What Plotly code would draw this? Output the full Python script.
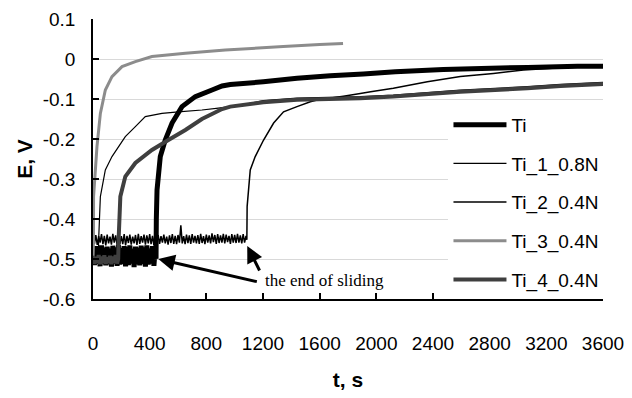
import plotly.graph_objects as go

# ---------------- data (time in s, potential in V) ----------------
series_names = ["Ti", "Ti_1_0.8N", "Ti_2_0.4N", "Ti_3_0.4N", "Ti_4_0.4N"]

t_ti = [0, 10, 20, 30, 40, 50, 60, 70, 80, 90,
        100, 110, 120, 130, 140, 150, 160, 170, 180, 190,
        200, 210, 220, 230, 240, 250, 260, 270, 280, 290,
        300, 310, 320, 330, 340, 350, 360, 370, 380, 390,
        400, 410, 420, 430, 440,
        445, 447, 452, 475, 510, 558, 628, 722, 840, 911, 969,
        1202, 1440, 1675, 1908, 2134, 2473, 3066, 3419, 3600]
e_ti = [-0.47, -0.515, -0.468, -0.512, -0.475, -0.518, -0.466, -0.51, -0.472, -0.516,
        -0.469, -0.513, -0.474, -0.519, -0.467, -0.511, -0.471, -0.517, -0.465, -0.514,
        -0.473, -0.512, -0.468, -0.518, -0.47, -0.515, -0.466, -0.511, -0.475, -0.52,
        -0.469, -0.513, -0.472, -0.516, -0.467, -0.512, -0.471, -0.519, -0.466, -0.514,
        -0.474, -0.511, -0.468, -0.517, -0.47,
        -0.50, -0.40, -0.3275, -0.244, -0.2025, -0.16, -0.119, -0.094, -0.0775, -0.0675, -0.064,
        -0.057, -0.048, -0.042, -0.0375, -0.032, -0.026, -0.021, -0.018, -0.018]

t_ti1 = [0, 10, 20, 30, 38, 40, 52, 87, 134, 228, 299, 369, 487, 602, 769, 885,
         1040, 1202, 1440, 1887, 2120, 2593, 3066, 3300, 3600]
e_ti1 = [-0.50, -0.51, -0.50, -0.51, -0.50, -0.45, -0.344, -0.2775, -0.244, -0.194, -0.169,
         -0.144, -0.1358, -0.132, -0.1275, -0.123,
         -0.116, -0.104, -0.098, -0.094, -0.090, -0.078, -0.069, -0.0635, -0.0585]

t_ti2 = [0, 10, 20, 30, 40, 50, 60, 70, 80, 90,
         100, 110, 120, 130, 140, 150, 160, 170, 180, 190,
         200, 210, 220, 230, 240, 250, 260, 270, 280, 290,
         300, 310, 320, 330, 340, 350, 360, 370, 380, 390,
         400, 410, 420, 430, 440, 450, 460, 470, 480, 490,
         500, 510, 520, 530, 540, 550, 560, 570, 580, 590,
         600, 610, 620, 630, 640, 650, 660, 670, 680, 690,
         700, 710, 720, 730, 740, 750, 760, 770, 780, 790,
         800, 810, 820, 830, 840, 850, 860, 870, 880, 890,
         900, 910, 920, 930, 940, 950, 960, 970, 980, 990,
         1000, 1010, 1020, 1030, 1040, 1050, 1060, 1070, 1080,
         1086, 1088, 1110, 1145, 1204, 1275, 1345, 1440, 1534, 1581, 1767, 1887, 1960,
         2120, 2360, 2593, 2826, 3038, 3300, 3600]
e_ti2 = [-0.437, -0.462, -0.44, -0.465, -0.443, -0.459, -0.438, -0.463, -0.442, -0.466,
         -0.439, -0.461, -0.444, -0.464, -0.437, -0.459, -0.441, -0.465, -0.44, -0.462,
         -0.443, -0.463, -0.438, -0.466, -0.442, -0.46, -0.439, -0.464, -0.444, -0.461,
         -0.44, -0.465, -0.437, -0.462, -0.443, -0.459, -0.439, -0.464, -0.441, -0.461,
         -0.438, -0.463, -0.442, -0.466, -0.428, -0.46, -0.44, -0.462, -0.443, -0.459,
         -0.439, -0.461, -0.444, -0.464, -0.441, -0.46, -0.438, -0.462, -0.442, -0.463,
         -0.44, -0.459, -0.416, -0.461, -0.443, -0.463, -0.439, -0.46, -0.441, -0.462,
         -0.438, -0.459, -0.442, -0.461, -0.44, -0.462, -0.437, -0.46, -0.443, -0.463,
         -0.439, -0.459, -0.441, -0.461, -0.436, -0.458, -0.44, -0.462, -0.438, -0.46,
         -0.441, -0.459, -0.437, -0.461, -0.439, -0.458, -0.442, -0.462, -0.438, -0.459,
         -0.44, -0.46, -0.437, -0.459, -0.441, -0.461, -0.438, -0.459, -0.442,
         -0.452, -0.369, -0.2775, -0.244, -0.2025, -0.16, -0.132, -0.119, -0.107, -0.1025,
         -0.093, -0.086, -0.082,
         -0.073, -0.057, -0.044, -0.036, -0.0275, -0.022, -0.018]

t_ti3 = [0, 3, 4, 28, 52, 87, 134, 205, 299, 416, 652, 934, 1343, 1600, 1765]
e_ti3 = [-0.50, -0.46, -0.344, -0.219, -0.136, -0.0775, -0.044, -0.019, -0.0067, 0.006,
         0.0142, 0.0225, 0.031, 0.036, 0.039]

t_ti4 = [0, 10, 20, 30, 40, 50, 60, 70, 80, 90,
         100, 110, 120, 130, 140, 150, 160, 170, 178,
         181, 193, 228, 299, 416, 532, 652, 769, 911, 969, 1202, 1440, 1887, 2120,
         2593, 3066, 3300, 3600]
e_ti4 = [-0.492, -0.512, -0.495, -0.51, -0.49, -0.513, -0.494, -0.509, -0.491, -0.512,
         -0.496, -0.51, -0.492, -0.513, -0.494, -0.509, -0.49, -0.511, -0.50,
         -0.45, -0.344, -0.294, -0.26, -0.2275, -0.2025, -0.1775, -0.15, -0.125, -0.119,
         -0.108, -0.102, -0.098, -0.094, -0.082, -0.073, -0.0675, -0.0625]

x_tickvals = [0, 400, 800, 1200, 1600, 2000, 2400, 2800, 3200, 3600]
x_ticktext = ["0", "400", "800", "1200", "1600", "2000", "2400", "2800", "3200", "3600"]
y_tickvals = [0.1, 0, -0.1, -0.2, -0.3, -0.4, -0.5, -0.6]
y_ticktext = ["0.1", "0", "-0.1", "-0.2", "-0.3", "-0.4", "-0.5", "-0.6"]

annotation_text = "the end of sliding"

# ---------------- figure ----------------
FONT = "Liberation Sans, Arial, sans-serif"

styles = [
    dict(color="#000000", width=5, simplify=False),
    dict(color="#000000", width=1.2, simplify=False),
    dict(color="#000000", width=1.5, simplify=False),
    dict(color="#8c8c8c", width=3, simplify=False),
    dict(color="#3f3f3f", width=4, simplify=False),
]
data_t = [t_ti, t_ti1, t_ti2, t_ti3, t_ti4]
data_e = [e_ti, e_ti1, e_ti2, e_ti3, e_ti4]

fig = go.Figure()
for name, tt, ee, st in zip(series_names, data_t, data_e, styles):
    fig.add_trace(go.Scatter(x=tt, y=ee, mode="lines", name=name, line=st,
                             legendgroup=name))

fig.update_layout(
    width=632, height=398,
    margin=dict(l=93, r=29, t=19, b=99, autoexpand=False),
    paper_bgcolor="white", plot_bgcolor="white",
    font=dict(family=FONT, size=19, color="black"),
    showlegend=True,
    legend=dict(x=0.697, y=0.69, xanchor="left", yanchor="top",
                bgcolor="white", borderwidth=0, tracegroupgap=11,
                font=dict(family=FONT, size=19), itemwidth=53),
    xaxis=dict(range=[0, 3600], tickvals=x_tickvals, ticktext=x_ticktext,
               ticks="inside", ticklen=6, tickwidth=1.5, tickcolor="black",
               showline=True, linecolor="black", linewidth=1.5, automargin=False,
               showgrid=False, zeroline=False, ticklabelstandoff=26,
               title=dict(text="<b>t, s</b>", font=dict(family=FONT, size=21), standoff=20)),
    yaxis=dict(range=[-0.6, 0.1], tickvals=y_tickvals, ticktext=y_ticktext,
               ticks="inside", ticklen=6, tickwidth=1.5, tickcolor="black",
               showline=True, linecolor="black", linewidth=1.5, automargin=False,
               showgrid=True, gridcolor="#d9d9d9", gridwidth=1, zeroline=False,
               ticklabelstandoff=12,
               title=dict(text="<b>E, V</b>", font=dict(family=FONT, size=21), standoff=4)),
)

fig.add_annotation(x=1635, y=-0.5525, xref="x", yref="y", text=annotation_text,
                   showarrow=False,
                   font=dict(family="Liberation Serif, Times New Roman, serif", size=17, color="black"))
fig.add_annotation(x=461, y=-0.50, xref="x", yref="y", ax=1167, ay=-0.5575,
                   axref="x", ayref="y", text="", showarrow=True,
                   arrowhead=2, arrowsize=1.1, arrowwidth=3, arrowcolor="black")
fig.add_annotation(x=1089, y=-0.4675, xref="x", yref="y", ax=1181, ay=-0.5325,
                   axref="x", ayref="y", text="", showarrow=True,
                   arrowhead=2, arrowsize=1.1, arrowwidth=3, arrowcolor="black")

fig.write_html("out.html", config={"displayModeBar": False},
               post_script="document.body.style.margin='0px';")
